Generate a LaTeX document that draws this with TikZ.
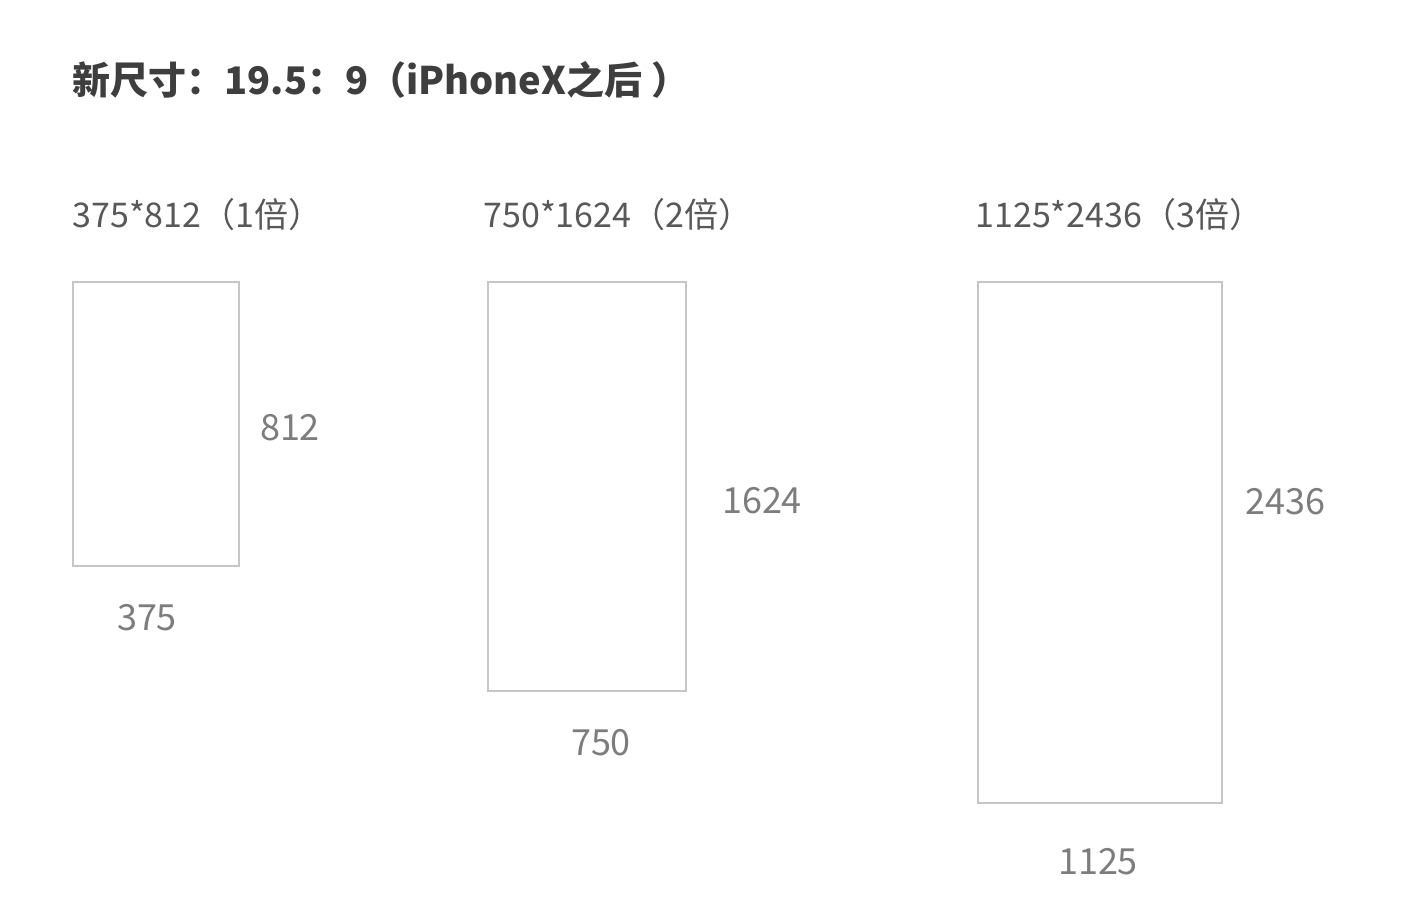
\documentclass[tikz,border=0pt]{standalone}
\usepackage{fontspec}
\setmainfont{Noto Sans CJK SC}
\definecolor{title_gray}{RGB}{62,62,62}
\definecolor{head_gray}{RGB}{88,88,88}
\definecolor{dim_gray}{RGB}{125,125,125}
\definecolor{frame_gray}{RGB}{198,198,198}
\tikzset{
  screen/.style={draw=frame_gray, line width=1pt, inner sep=0pt, anchor=north west},
  headlabel/.style={anchor=west, text=head_gray, inner sep=0pt,
    font=\fontsize{17}{17}\selectfont},
  dimlabel/.style={text=dim_gray, inner sep=0pt,
    font=\fontsize{18}{18}\selectfont}
}

\begin{document}
\begin{tikzpicture}[x=0.5pt, y=-0.5pt]
  \useasboundingbox (0,0) rectangle (1428,918);
  \node[anchor=west, text=title_gray, inner sep=0pt,
        font=\bfseries\fontsize{19}{19}\selectfont] (title) at (72,80)
        {新尺寸：19.5：9（iPhoneX之后 ）};
  % 1x
  \node[headlabel] (head1) at (72,215) {375*812（1倍）};
  \node[screen, minimum width=83pt, minimum height=142pt] (screen1) at (72,281) {};
  \node[dimlabel] (height1) at (290,428) {812};
  \node[dimlabel] (width1) at (147,618) {375};
  % 2x
  \node[headlabel] (head2) at (483,215) {750*1624（2倍）};
  \node[screen, minimum width=99pt, minimum height=204.5pt] (screen2) at (487,281) {};
  \node[dimlabel] (height2) at (762,501) {1624};
  \node[dimlabel] (width2) at (601,743) {750};
  % 3x
  \node[headlabel] (head3) at (975,215) {1125*2436（3倍）};
  \node[screen, minimum width=122pt, minimum height=260.5pt] (screen3) at (977,281) {};
  \node[dimlabel] (height3) at (1285,502) {2436};
  \node[dimlabel] (width3) at (1098,862) {1125};
\end{tikzpicture}
\end{document}
